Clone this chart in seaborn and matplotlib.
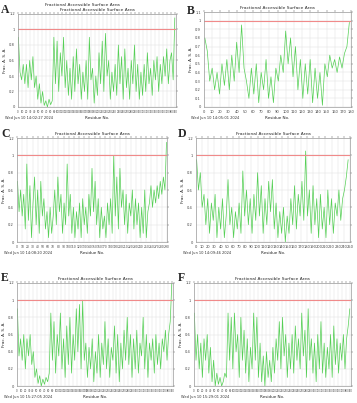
import numpy as np
import matplotlib
matplotlib.use("Agg")
import matplotlib.pyplot as plt
import seaborn as sns

# Fractional accessible surface area profiles
steps = {"A": 4, "B": 3, "C": 3, "D": 3, "E": 4, "F": 4}

asa_a = [0.9, 0.45, 0.35, 0.55, 0.3, 0.55, 0.25, 0.6, 0.35, 0.65,
         0.25, 0.4, 0.1, 0.3, 0.05, 0.2, 0.02, 0.08, 0.0, 0.1, 0.03, 0.08,
         0.9, 0.3, 0.85, 0.2, 0.7, 0.4, 0.9, 0.25, 0.6,
         0.15, 0.5, 0.1, 0.65, 0.2, 0.75, 0.3, 0.55, 0.1, 0.45,
         0.2, 0.6, 0.1, 0.9, 0.35, 0.5, 0.05, 0.4, 0.15, 0.7,
         0.3, 0.85, 0.2, 0.95, 0.4, 0.6, 0.1, 0.45, 0.2, 0.55,
         0.15, 0.8, 0.3, 0.65, 0.1, 0.75, 0.25, 0.5, 0.1, 0.6,
         0.3, 0.8, 0.2, 0.55, 0.1, 0.45, 0.15, 0.55, 0.2, 0.7,
         0.3, 0.5, 0.15, 0.6, 0.35, 0.65, 0.2, 0.55, 0.3, 0.65,
         0.4, 0.75, 0.3, 0.6, 0.7, 0.35, 1.15]

asa_b = [0.8, 0.65, 0.3, 0.45, 0.2, 0.4, 0.15, 0.5, 0.25, 0.55,
         0.2, 0.6, 0.3, 0.75, 0.4, 0.95, 0.45, 0.3, 0.1, 0.45,
         0.15, 0.5, 0.05, 0.4, 0.2, 0.55, 0.1, 0.35, 0.05, 0.45,
         0.3, 0.6, 0.4, 0.88, 0.5, 0.8, 0.35, 0.7, 0.2, 0.55,
         0.1, 0.5, 0.15, 0.55, 0.05, 0.45, 0.1, 0.4, 0.02, 0.5,
         0.35, 0.6, 0.45, 0.55, 0.4, 0.58, 0.45, 0.62, 0.7, 0.98]

asa_c = [0.7, 0.35, 0.6, 0.3, 0.55, 0.15, 0.9, 0.25, 0.65, 0.05,
         0.45, 0.75, 0.2, 0.6, 0.1, 0.7, 0.3, 0.5, 0.15, 0.35,
         0.05, 0.4, 0.1, 0.3, 0.6, 0.2, 0.75, 0.35, 0.55, 0.1,
         0.45, 0.2, 0.9, 0.3, 0.55, 0.1, 0.4, 0.05, 0.35, 0.15,
         0.45, 0.05, 0.5, 0.2, 0.4, 0.1, 0.55, 0.3, 0.85, 0.35,
         0.7, 0.2, 0.5, 0.05, 0.4, 0.15, 0.3, 0.05, 0.45, 0.2,
         0.5, 0.1, 1.0, 0.3, 0.75, 0.15, 0.85, 0.4, 0.6, 0.2,
         0.55, 0.1, 0.45, 0.3, 0.6, 0.15, 0.5, 0.2, 0.45, 0.05,
         0.4, 0.1, 0.6, 0.05, 0.35, 0.45, 0.65, 0.4, 0.6, 0.45,
         0.65, 0.5, 0.7, 0.55, 0.75, 0.6, 1.15]

asa_d = [0.95, 0.6, 0.8, 0.4, 0.55, 0.2, 0.5, 0.1, 0.45, 0.25,
         0.55, 0.05, 0.4, 0.15, 0.5, 0.05, 0.3, 0.72, 0.2, 0.4,
         0.05, 0.35, 0.15, 0.45, 0.1, 0.82, 0.3, 0.6, 0.2, 0.5,
         0.1, 0.55, 0.25, 0.8, 0.3, 0.65, 0.1, 0.5, 0.2, 0.7,
         0.35, 0.72, 0.15, 0.45, 0.05, 0.35, 0.1, 0.4, 0.0, 0.3,
         0.1, 0.5, 0.2, 0.65, 0.15, 0.55, 0.3, 0.7, 0.25, 1.05,
         0.3, 0.6, 0.1, 0.65, 0.2, 0.5, 0.05, 0.55, 0.15, 0.4,
         0.05, 0.6, 0.2, 0.5, 0.1, 0.45, 0.3, 0.6, 0.25, 0.5,
         0.6, 0.75, 0.95]

asa_e = [0.9, 0.35, 0.55, 0.3, 0.6, 0.2, 0.55, 0.35, 0.6, 0.25,
         0.4, 0.1, 0.2, 0.03, 0.12, 0.0, 0.08, 0.02, 0.1, 0.05,
         0.15, 0.85, 0.3, 0.75, 0.15, 0.6, 0.35, 0.85, 0.2, 0.55,
         0.1, 0.7, 0.25, 0.8, 0.15, 0.6, 0.3, 0.9, 0.4, 0.95,
         0.2, 1.0, 0.3, 0.5, 0.1, 0.45, 0.2, 0.55, 0.05, 0.4,
         0.15, 0.6, 0.1, 0.5, 0.25, 0.75, 0.2, 0.55, 0.1, 0.45,
         0.3, 0.7, 0.15, 0.6, 0.05, 0.5, 0.2, 0.65, 0.3, 0.8,
         0.25, 0.6, 0.1, 0.55, 0.2, 0.65, 0.15, 0.5, 0.35, 0.8,
         0.2, 0.6, 0.1, 0.5, 0.3, 0.55, 0.15, 0.6, 0.25, 0.5,
         0.2, 0.55, 0.4, 0.65, 0.3, 0.6, 0.75, 1.2]

asa_f = [0.85, 0.3, 0.6, 0.2, 0.5, 0.1, 0.55, 0.3, 0.6, 0.15,
         0.45, 0.05, 0.3, 0.0, 0.15, 0.02, 0.1, 0.0, 0.05, 0.15,
         0.1, 0.85, 0.3, 0.8, 0.2, 0.85, 0.4, 0.6, 0.1, 0.8,
         0.3, 0.65, 0.15, 0.55, 0.05, 0.45, 0.2, 0.85, 0.3, 0.8,
         0.1, 0.5, 0.05, 0.35, 0.0, 0.4, 0.1, 0.3, 0.05, 0.45,
         0.15, 0.55, 0.3, 0.75, 0.2, 0.8, 0.35, 0.6, 0.1, 0.5,
         0.2, 0.6, 0.15, 0.7, 0.3, 0.55, 0.2, 0.85, 0.35, 0.65,
         0.1, 0.9, 0.3, 0.55, 0.15, 0.5, 0.05, 0.6, 0.2, 0.75,
         0.15, 0.5, 0.1, 0.45, 0.2, 0.6, 0.1, 0.7, 0.25, 0.55,
         0.15, 0.5, 0.3, 0.6, 0.2, 0.55, 0.7, 0.9]

series = {"A": asa_a, "B": asa_b, "C": asa_c, "D": asa_d, "E": asa_e, "F": asa_f}
x_max = {"A": 392, "B": 180, "C": 290, "D": 250, "E": 392, "F": 392}
y_max = {"A": 1.2, "B": 1.1, "C": 1.2, "D": 1.2, "E": 1.2, "F": 1.2}
dates = {"A": "Wed Jun 10 14:02:27 2024", "B": "Wed Jun 10 14:05:01 2024",
         "C": "Wed Jun 10 14:08:20 2024", "D": "Wed Jun 10 14:09:46 2024",
         "E": "Wed Jun 10 15:27:05 2024", "F": "Wed Jun 10 15:29:01 2024"}

# axes boxes in pixels: left, right, top, bottom
boxes = {"A": (18, 176, 14, 107), "B": (204, 351, 12, 107),
         "C": (17, 167, 138, 242), "D": (196, 350, 138, 242),
         "E": (17, 173, 283, 386), "F": (194, 351, 283, 386)}
letter_pos = {"A": (1, 13), "B": (187, 14), "C": (1, 137), "D": (178, 137),
              "E": (1, 281), "F": (178, 281)}

W, H = 357, 403
sns.set_theme(style="white")
plt.rcParams["font.family"] = ["DejaVu Sans"]
fig = plt.figure(figsize=(W / 100, H / 100), dpi=100)
fig.patch.set_facecolor("white")

for key, vals in series.items():
    l, r, t, b = boxes[key]
    ax = fig.add_axes([l / W, 1 - b / H, (r - l) / W, (b - t) / H])
    res = np.arange(len(vals)) * steps[key] + 1
    sns.lineplot(x=res, y=vals, ax=ax, color="#55cf55", lw=0.5)
    ax.axhline(1.0, color="#f08a8a", lw=0.8)
    ax.set_xlim(0, x_max[key])
    ax.set_ylim(0, y_max[key])
    ax.set_xticks(np.arange(0, x_max[key] + 1, 10))
    if y_max[key] > 1.15:
        yt = np.arange(0, 1.21, 0.2)
    else:
        yt = np.arange(0, 1.11, 0.1)
    ax.set_yticks(yt)
    ax.set_yticklabels([f"{v:g}" for v in np.round(yt, 1)])
    ax.tick_params(labelsize=2.6, length=1.2, width=0.3, pad=1,
                   top=True, right=True, colors="#444444")
    if x_max[key] > 300:
        ax.tick_params(axis="x", labelsize=1.9)
    elif x_max[key] > 260:
        ax.tick_params(axis="x", labelsize=2.2)
    ax.grid(True, color="#e2e2e2", lw=0.35)
    for s in ax.spines.values():
        s.set_color("#9a9a9a")
        s.set_linewidth(0.5)
    ax.set_xlabel("Residue No.", fontsize=3, labelpad=1.5)
    ax.set_ylabel("Frac. A. S. A.", fontsize=3, labelpad=1.5)
    ax.set_title("Fractional Accessible Surface Area", fontsize=3.2, pad=2.5)
    fig.text((l - 13) / W, 1 - (b + 11) / H, dates[key], fontsize=2.6,
             color="#333333", va="center")
    lx, ly = letter_pos[key]
    fig.text(lx / W, 1 - ly / H, key, fontsize=8.5, fontweight="bold",
             family="Liberation Serif", va="baseline")

# panel A carries a second, offset copy of the title
fig.text(82 / W, 1 - 5 / H, "Fractional Accessible Surface Area",
         fontsize=3.2, ha="center", va="center")

fig.savefig("out.png", dpi=100)
